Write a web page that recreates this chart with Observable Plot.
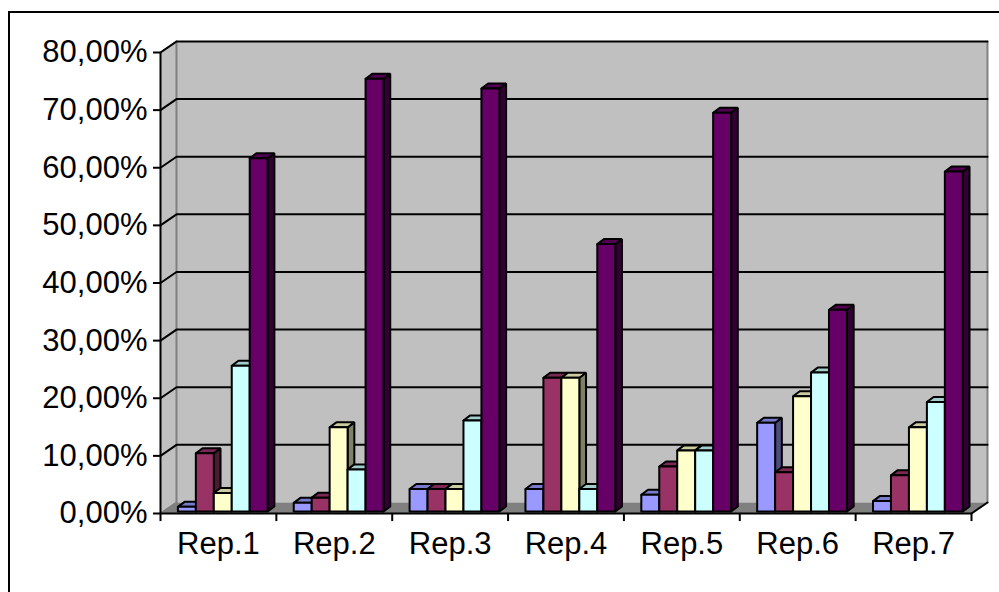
<!DOCTYPE html>
<html>
<head>
<meta charset="utf-8">
<style>
  html, body { margin: 0; padding: 0; background: #fff; overflow: hidden; }
  #chart { position: absolute; left: 0; top: 0; width: 999px; height: 592px; }
  #chart svg { display: block; position: absolute; left: 0; top: 0; background: transparent; }
  #chart svg text { font-weight: 400; }
  #border { position: absolute; left: 8px; top: 11px; width: 1100px; height: 700px; border: 2px solid #000; }
</style>
<script src="https://cdn.jsdelivr.net/npm/d3@7"></script>
<script src="https://cdn.jsdelivr.net/npm/@observablehq/plot@0.6"></script>
</head>
<body>
<div id="border"></div>
<div id="chart"></div>
<script>
const reports = ["Rep.1", "Rep.2", "Rep.3", "Rep.4", "Rep.5", "Rep.6", "Rep.7"];
const seriesA = [0.8, 1.5, 3.9, 3.9, 2.9, 15.4, 1.8];
const seriesB = [10.1, 2.4, 3.9, 23.2, 7.8, 6.8, 6.3];
const seriesC = [3.2, 14.6, 3.9, 23.2, 10.6, 20.0, 14.6];
const seriesD = [25.3, 7.3, 15.8, 3.9, 10.6, 24.1, 19.0];
const seriesE = [61.3, 75.1, 73.4, 46.4, 69.2, 35.0, 59.0];
const seriesValues = [seriesA, seriesB, seriesC, seriesD, seriesE];
const seriesColors = ["#9999ff", "#993366", "#ffffcc", "#ccffff", "#660066"];
const yTicks = [0, 10, 20, 30, 40, 50, 60, 70, 80];

// Oblique projection of the 3D box, in data units.
const wallDx = 0.138, wallDy = 1.91;   // depth of the whole plot box
const barDx = 0.058, barDy = 0.87;     // depth of one bar
const baseDy = 0.35;                   // bars stand slightly behind the front edge
const barStart = 0.15, barWidth = 0.155;
const yMax = yTicks[yTicks.length - 1];
const nCat = reports.length;

const shade = (color, k) => {
  const c = d3.rgb(color);
  return d3.rgb(c.r * k, c.g * k, c.b * k).formatHex();
};

// Faces are listed back to front, so each bar covers the side of its left neighbour.
const faces = [];
const addFace = (corners, fill) => {
  const id = faces.length ? faces[faces.length - 1].id + 1 : 0;
  for (const [x, y] of [...corners, corners[0]]) faces.push({id, x, y, fill});
};
reports.forEach((_, i) => {
  seriesValues.forEach((values, s) => {
    const x0 = i + barStart + s * barWidth, x1 = x0 + barWidth;
    const y0 = baseDy, y1 = values[i] + baseDy;
    const color = seriesColors[s];
    addFace([[x1, y0], [x1 + barDx, y0 + barDy], [x1 + barDx, y1 + barDy], [x1, y1]], shade(color, 0.5));
    addFace([[x0, y1], [x1, y1], [x1 + barDx, y1 + barDy], [x0 + barDx, y1 + barDy]], shade(color, 0.8));
    addFace([[x0, y0], [x1, y0], [x1, y1], [x0, y1]], color);
  });
});

const walls = [
  {id: "left", pts: [[0, 0], [wallDx, wallDy], [wallDx, yMax + wallDy], [0, yMax]], fill: "#c0c0c0"},
  {id: "back", pts: [[wallDx, wallDy], [nCat + wallDx, wallDy], [nCat + wallDx, yMax + wallDy], [wallDx, yMax + wallDy]], fill: "#c0c0c0"},
  {id: "floor", pts: [[0, 0], [nCat, 0], [nCat + wallDx, wallDy], [wallDx, wallDy]], fill: "#808080"}
].flatMap(w => w.pts.map(([x, y]) => ({id: w.id, x, y, fill: w.fill})));

// Gridlines run along the left wall and then across the back wall.
const grid = yTicks.filter(t => t > 0).flatMap(t => [
  {t, x: 0, y: t},
  {t, x: wallDx, y: t + wallDy},
  {t, x: nCat + wallDx, y: t + wallDy}
]);

const wallEdges = [
  {id: "a", x: 0, y: yMax}, {id: "a", x: wallDx, y: yMax + wallDy},
  {id: "b", x: wallDx, y: yMax + wallDy}, {id: "b", x: wallDx, y: wallDy},
  {id: "c", x: nCat + wallDx, y: yMax + wallDy}, {id: "c", x: nCat + wallDx, y: wallDy},
  {id: "d", x: 0, y: 0}, {id: "d", x: wallDx, y: wallDy}
];

const chart = Plot.plot({
  width: 999,
  height: 592,
  marginLeft: 160,
  marginRight: 28,
  marginTop: 52,
  marginBottom: 79,
  style: {fontFamily: "'Liberation Sans', Arial, sans-serif", background: "transparent", overflow: "visible"},
  x: {domain: [0, nCat], axis: null},
  y: {domain: [0, yMax], axis: null},
  marks: [
    Plot.line(walls, {x: "x", y: "y", z: "id", fill: "fill", stroke: "none"}),
    Plot.line(wallEdges, {x: "x", y: "y", z: "id", stroke: "#808080", strokeWidth: 2}),
    Plot.line(grid, {x: "x", y: "y", z: "t", stroke: "#000", strokeWidth: 2}),
    Plot.line(faces, {x: "x", y: "y", z: "id", fill: "fill", stroke: "#000", strokeWidth: 2, strokeLinejoin: "miter"}),
    Plot.ruleX([0], {y1: 0, y2: yMax, stroke: "#000", strokeWidth: 2}),
    Plot.ruleY([0], {x1: 0, x2: nCat, stroke: "#000", strokeWidth: 2}),
    Plot.line([{x: nCat, y: 0}, {x: nCat + wallDx, y: wallDy}], {x: "x", y: "y", stroke: "#000", strokeWidth: 2}),
    Plot.ruleX(d3.range(nCat + 1), {y1: 0, y2: -1.4, stroke: "#000", strokeWidth: 2}),
    Plot.axisY({
      ticks: yTicks,
      tickSize: 7,
      tickPadding: 6,
      strokeWidth: 2,
      fontSize: 31,
      fill: "#000",
      label: null,
      tickFormat: d => d.toFixed(2).replace(".", ",") + "%"
    }),
    Plot.axisX({
      ticks: reports.map((_, i) => i + 0.5),
      tickSize: 0,
      tickPadding: 18,
      fontSize: 31,
      fill: "#000",
      label: null,
      tickFormat: d => reports[Math.floor(d)]
    })
  ]
});
document.getElementById("chart").appendChild(chart);
</script>
</body>
</html>
